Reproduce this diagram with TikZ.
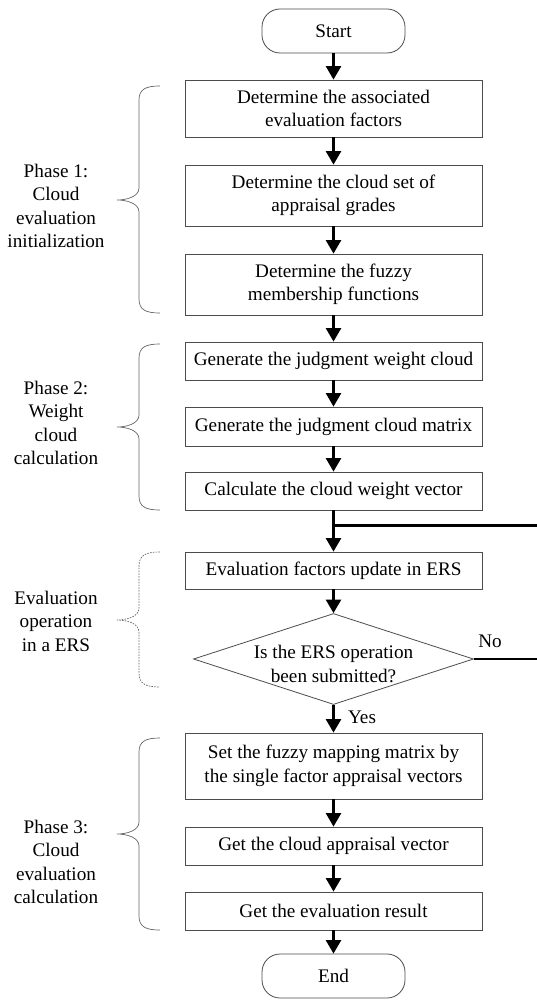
\documentclass[tikz,border=0pt]{standalone}
\usepackage{fontspec}
\setmainfont{Liberation Serif}
\usetikzlibrary{arrows.meta,shapes.geometric}
\tikzset{
  stepbox/.style={draw=black!70,line width=0.8pt,fill=white,minimum width=297pt,inner sep=0pt,align=center},
  termbox/.style={draw=black!70,line width=0.8pt,fill=white,rounded corners=18pt,minimum width=143pt,minimum height=44pt,inner sep=0pt},
  decbox/.style={draw=black!70,line width=0.8pt,diamond,minimum width=280pt,minimum height=91pt,inner sep=0pt},
  flow/.style={line width=2.4pt,-{Triangle[length=13.5pt,width=15pt]}},
  loopline/.style={line width=2.4pt},
  bracestyle/.style={draw=black!60,line width=0.7pt},
  phase/.style={align=center,inner sep=0pt},
  lbl/.style={inner sep=0pt}
}
\newcommand{\mybrace}[4][]{%
  \draw[bracestyle,#1] (160,#2) .. controls (146,#2) and (139,{#2+3}) .. (139,{#2+14})
    -- (139,{#4-12}) .. controls (139,{#4-3}) and (126,#4) .. (117,#4)
    .. controls (126,#4) and (139,{#4+3}) .. (139,{#4+12})
    -- (139,{#3-14}) .. controls (139,{#3-3}) and (146,#3) .. (160,#3);}
\begin{document}
\begin{tikzpicture}[x=1pt,y=-1pt,font=\fontsize{19.2}{23.5}\selectfont]
\useasboundingbox (0,0) rectangle (537,1000);
\node[termbox] (start) at (333.5,31) {Start};
\node[stepbox,minimum height=57pt] (b1) at (333.5,108.5) {Determine the associated\\evaluation factors};
\node[stepbox,minimum height=61pt] (b2) at (333.5,195.5) {Determine the cloud set of\\appraisal grades};
\node[stepbox,minimum height=61pt] (b3) at (333.5,284.5) {Determine the fuzzy\\membership functions};
\node[stepbox,minimum height=38pt] (b4) at (333.5,361) {Generate the judgment weight cloud};
\node[stepbox,minimum height=39pt] (b5) at (333.5,426.5) {Generate the judgment cloud matrix};
\node[stepbox,minimum height=38pt] (b6) at (333.5,491) {Calculate the cloud weight vector};
\node[stepbox,minimum height=37pt] (b7) at (333.5,570.5) {Evaluation factors update in ERS};
\node[decbox] (d) at (333.5,659) {};
\node[phase] (dtext) at (333.5,664) {Is the ERS operation\\been submitted?};
\node[stepbox,minimum height=66pt] (b8) at (333.5,766) {Set the fuzzy mapping matrix by\\the single factor appraisal vectors};
\node[stepbox,minimum height=38pt] (b9) at (333.5,846) {Get the cloud appraisal vector};
\node[stepbox,minimum height=38pt] (b10) at (333.5,911) {Get the evaluation result};
\node[termbox] (end) at (333.5,976) {End};

\draw[flow] (start) -- (b1);
\draw[flow] (b1) -- (b2);
\draw[flow] (b2) -- (b3);
\draw[flow] (b3) -- (b4);
\draw[flow] (b4) -- (b5);
\draw[flow] (b5) -- (b6);
\draw[flow] (b6) -- (b7);
\draw[flow] (b7) -- (d);
\draw[flow] (d) -- (b8);
\draw[flow] (b8) -- (b9);
\draw[flow] (b9) -- (b10);
\draw[flow] (b10) -- (end);

\coordinate (join) at (333.5,525.5);
\coordinate (rtop) at (539,525.5);
\coordinate (rbot) at (539,659);
\draw[loopline] (d.east) -- (rbot) -- (rtop) -- (join);

\node[lbl] (no) at (490,641) {No};
\node[lbl] (yes) at (362,717) {Yes};

\mybrace{86}{313}{200}
\mybrace{344}{510}{427}
\mybrace[dash pattern=on 1.6pt off 1.2pt]{552}{687}{620}
\mybrace{738}{930}{834}

\node[phase] (p1) at (56,206) {Phase 1:\\Cloud\\evaluation\\initialization};
\node[phase] (p2) at (56,423) {Phase 2:\\Weight\\cloud\\calculation};
\node[phase] (pe) at (56,621) {Evaluation\\operation\\in a ERS};
\node[phase] (p3) at (56,862) {Phase 3:\\Cloud\\evaluation\\calculation};
\end{tikzpicture}
\end{document}
